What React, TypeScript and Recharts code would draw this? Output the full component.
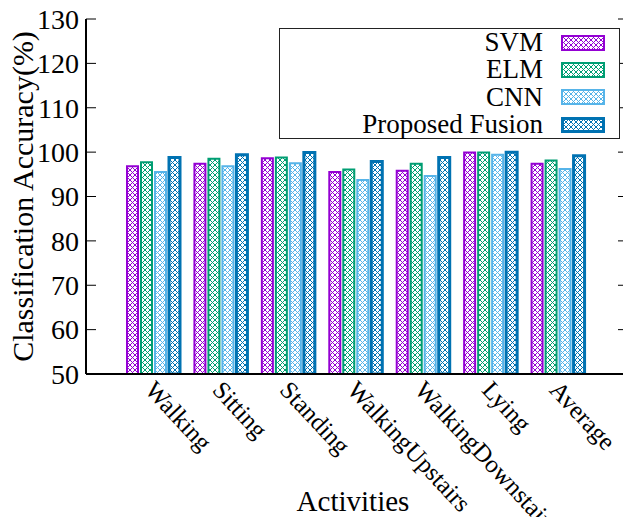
import React from "react";
import { BarChart, Bar, XAxis, YAxis, Legend } from "recharts";

const categories = ["Walking", "Sitting", "Standing", "WalkingUpstairs", "WalkingDownstairs", "Lying", "Average"];
const svm = [96.8, 97.4, 98.6, 95.5, 95.8, 99.9, 97.4];
const elm = [97.7, 98.5, 98.8, 96.1, 97.4, 99.9, 98.1];
const cnn = [95.5, 96.8, 97.5, 93.7, 94.6, 99.4, 96.2];
const fusion = [98.8, 99.4, 99.9, 97.9, 98.8, 100.0, 99.2];
const yTicks = [50, 60, 70, 80, 90, 100, 110, 120, 130];

const series = [
  { key: "svm", name: "SVM", color: "#9400d3", width: 2 },
  { key: "elm", name: "ELM", color: "#009e73", width: 2 },
  { key: "cnn", name: "CNN", color: "#56b4e9", width: 2 },
  { key: "fusion", name: "Proposed Fusion", color: "#0072b2", width: 3 },
];

const data = categories.map((name, i) => ({
  name,
  svm: svm[i],
  elm: elm[i],
  cnn: cnn[i],
  fusion: fusion[i],
}));

const FONT = "'Liberation Serif', 'Times New Roman', serif";
const PLOT_LEFT = 86;
const PLOT_RIGHT = 628;
const PLOT_TOP = 19;
const PLOT_BOTTOM = 374;

// crosshatch fill like gnuplot's pattern
const Hatch = ({ id, color }: { id: string; color: string }) => (
  <pattern id={id} patternUnits="userSpaceOnUse" width={5} height={5}>
    <path d="M0,0 L5,5 M5,0 L0,5" stroke={color} strokeWidth={1} />
  </pattern>
);

const YTick = ({ y, payload }: any) => (
  <g>
    <line x1={PLOT_LEFT} x2={PLOT_LEFT + 10} y1={y} y2={y} stroke="#000" strokeWidth={1} />
    <line x1={PLOT_RIGHT - 10} x2={PLOT_RIGHT} y1={y} y2={y} stroke="#000" strokeWidth={1} />
    <text x={79} y={y} dy="0.35em" textAnchor="end" fontSize={28} fontFamily={FONT} fill="#000">
      {payload.value}
    </text>
  </g>
);

const XTick = ({ x, payload }: any) => (
  <text
    transform={`translate(${x - 10},${PLOT_BOTTOM + 17}) rotate(47)`}
    textAnchor="start"
    fontSize={25}
    fontFamily={FONT}
    fill="#000"
  >
    {payload.value}
  </text>
);

const LegendBox = () => (
  <div
    style={{
      width: 341,
      height: 111,
      boxSizing: "border-box",
      border: "1px solid #222",
      background: "#fff",
      fontFamily: FONT,
      fontSize: 27,
    }}
  >
    {series.map((s) => (
      <div key={s.key} style={{ display: "flex", alignItems: "center", height: 27.3 }}>
        <div style={{ width: 263, textAlign: "right", lineHeight: "27px" }}>{s.name}</div>
        <svg width={44} height={16} style={{ marginLeft: 18 }}>
          <defs>
            <Hatch id={`lg-${s.key}`} color={s.color} />
          </defs>
          <rect
            x={s.width / 2}
            y={s.width / 2}
            width={44 - s.width}
            height={16 - s.width}
            fill={`url(#lg-${s.key})`}
            stroke={s.color}
            strokeWidth={s.width}
          />
        </svg>
      </div>
    ))}
  </div>
);

export default function App() {
  return (
    <div style={{ position: "absolute", left: 0, top: 0, width: 623, height: 517, overflow: "hidden", background: "#fff" }}>
      <BarChart
        width={630}
        height={517}
        data={data}
        margin={{ top: PLOT_TOP, right: 630 - PLOT_RIGHT, bottom: 0, left: 0 }}
        barSize={11}
        barGap={3}
      >
        <defs>
          {series.map((s) => (
            <Hatch key={s.key} id={`hatch-${s.key}`} color={s.color} />
          ))}
        </defs>
        <XAxis
          dataKey="name"
          height={517 - PLOT_BOTTOM}
          padding={{ left: 34, right: 36 }}
          axisLine={{ stroke: "#000", strokeWidth: 2 }}
          tickLine={false}
          tick={<XTick />}
          interval={0}
          label={{
            content: () => (
              <text x={353} y={511} textAnchor="middle" fontSize={29} fontFamily={FONT} fill="#000">
                Activities
              </text>
            ),
          }}
        />
        <XAxis
          xAxisId="top"
          dataKey="name"
          orientation="top"
          height={0}
          tick={false}
          tickLine={false}
          axisLine={{ stroke: "#000", strokeWidth: 2 }}
        />
        <YAxis
          width={PLOT_LEFT}
          domain={[50, 130]}
          ticks={yTicks}
          allowDataOverflow
          axisLine={{ stroke: "#000", strokeWidth: 2 }}
          tickLine={false}
          tick={<YTick />}
          label={{
            content: () => (
              <text
                transform={`translate(33,${(PLOT_TOP + PLOT_BOTTOM) / 2}) rotate(-90)`}
                textAnchor="middle"
                fontSize={30}
                fontFamily={FONT}
                fill="#000"
              >
                Classification Accuracy(%)
              </text>
            ),
          }}
        />
        <Legend
          layout="vertical"
          align="center"
          verticalAlign="middle"
          content={<LegendBox />}
          wrapperStyle={{ left: 279, top: 28, width: 341, height: 111 }}
        />
        {series.map((s) => (
          <Bar
            key={s.key}
            dataKey={s.key}
            name={s.name}
            fill={`url(#hatch-${s.key})`}
            stroke={s.color}
            strokeWidth={s.width}
            isAnimationActive={false}
          />
        ))}
      </BarChart>
    </div>
  );
}
